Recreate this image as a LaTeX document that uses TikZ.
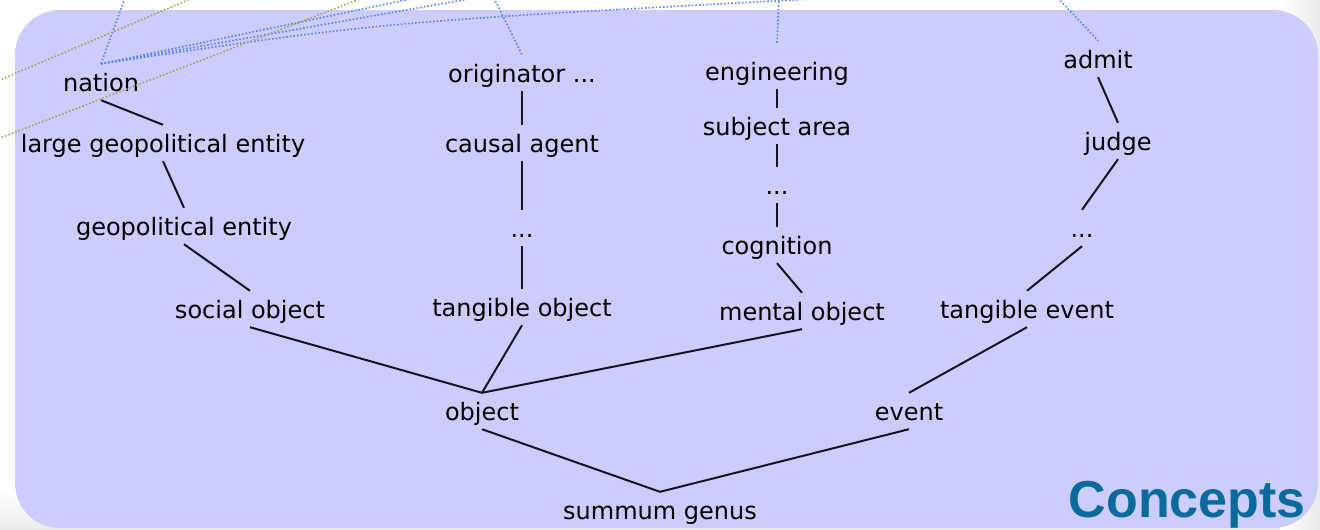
\documentclass[tikz,border=0pt]{standalone}
\usepackage{fontspec}
\setmainfont{DejaVu Sans}
\newfontfamily\titlefont{Liberation Sans}
\definecolor{boxblue}{RGB}{204,204,255}
\definecolor{dotblue}{RGB}{90,130,255}
\definecolor{dotolive}{RGB}{165,165,80}
\definecolor{conceptblue}{RGB}{11,106,156}
\definecolor{linkgray}{RGB}{20,20,35}
\begin{document}
\begin{tikzpicture}[x=1pt,y=-1pt,
  lbl/.style={anchor=base, font=\fontsize{24}{28}\selectfont, text height=26pt, text depth=8pt, inner sep=1pt, text=black},
  link/.style={line width=2pt, draw=linkgray},
  bluedot/.style={dotted, line width=1.6pt, draw=dotblue},
  olivedot/.style={dotted, line width=1.6pt, draw=dotolive},
  titlestyle/.style={font=\titlefont\bfseries\fontsize{52}{60}\selectfont, text=conceptblue, anchor=base east, inner sep=0pt}
]
\useasboundingbox (0,0) rectangle (1320,530);
\begin{scope}
\clip (0,0) rectangle (1320,530);
\fill[white] (0,0) rectangle (1320,530);
\shade[top color=white, bottom color=black!8] (0,490) rectangle (1320,530);
\shade[left color=white, right color=black!8] (1280,0) rectangle (1320,530);
\fill[boxblue, rounded corners=45pt] (15,10) rectangle (1318,528);

% nodes
\node[lbl] (nation) at (101,91) {nation};
\node[lbl] (lge) at (163,152) {large geopolitical entity};
\node[lbl] (geo) at (184,235) {geopolitical entity};
\node[lbl] (social) at (250,318) {social object};
\node[lbl] (object) at (482,420) {object};
\node[lbl] (summum) at (660,519) {summum genus};
\node[lbl] (orig) at (522,82) {originator ...};
\node[lbl] (causal) at (522,152) {causal agent};
\node[lbl] (dotsA) at (522,237) {...};
\node[lbl] (tobj) at (522,316) {tangible object};
\node[lbl] (eng) at (777,80) {engineering};
\node[lbl] (subj) at (777,135) {subject area};
\node[lbl] (dotsB) at (777,194) {...};
\node[lbl] (cog) at (777,254) {cognition};
\node[lbl] (mental) at (802,320) {mental object};
\node[lbl] (admit) at (1098,68) {admit};
\node[lbl] (judge) at (1118,150) {judge};
\node[lbl] (dotsC) at (1082,237) {...};
\node[lbl] (tevent) at (1027,318) {tangible event};
\node[lbl] (event) at (909,420) {event};
\node[titlestyle] (title) at (1306,517) {Concepts};

% hierarchy links
\draw[link] (nation.south) -- (lge.north);
\draw[link] (lge.south) -- (geo.north);
\draw[link] (geo.south) -- (social.north);
\draw[link] (social.south) -- (object.north);
\draw[link] (orig.south) -- (causal.north);
\draw[link] (causal.south) -- (dotsA.north);
\draw[link] (dotsA.south) -- (tobj.north);
\draw[link] (tobj.south) -- (object.north);
\draw[link] (eng.south) -- (subj.north);
\draw[link] (subj.south) -- (dotsB.north);
\draw[link] (dotsB.south) -- (cog.north);
\draw[link] (cog.south) -- (mental.north);
\draw[link] (mental.south) -- (object.north);
\draw[link] (admit.south) -- (judge.north);
\draw[link] (judge.south) -- (dotsC.north);
\draw[link] (dotsC.south) -- (tevent.north);
\draw[link] (tevent.south) -- (event.north);
\draw[link] (object.south) -- (summum.north);
\draw[link] (event.south) -- (summum.north);

% dotted cross links leaving the picture
\coordinate (bn) at (125,-2);
\coordinate (bo) at (494,-2);
\coordinate (be) at (779,-2);
\coordinate (ba) at (1058,-2);
\coordinate (f1) at (420,-3);
\coordinate (f2) at (480,-3);
\coordinate (f3) at (830,-2);
\draw[bluedot] (bn) -- (nation.north);
\draw[bluedot] (bo) -- (orig.north);
\draw[bluedot] (be) -- ([yshift=10pt]eng.north);
\draw[bluedot] (ba) -- (admit.north);
\draw[bluedot] (nation.north) -- (f1);
\draw[bluedot] (nation.north) -- (f2);
\draw[bluedot] (nation.north) .. controls (380,22) .. (f3);

\coordinate (o1a) at (-5,82);
\coordinate (o1b) at (195,-3);
\coordinate (o2a) at (-5,140);
\coordinate (o2b) at (365,-3);
\draw[olivedot] (o1a) -- (o1b);
\draw[olivedot] (o2a) -- (o2b);
\end{scope}
\end{tikzpicture}
\end{document}
